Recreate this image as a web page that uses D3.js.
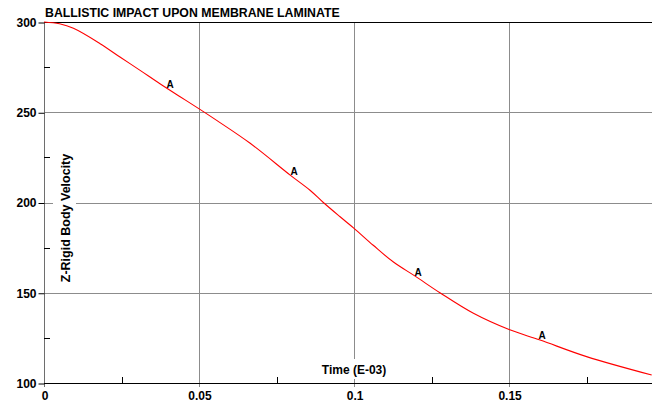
<!DOCTYPE html>
<html>
<head>
<meta charset="utf-8">
<script src="https://cdn.jsdelivr.net/npm/d3@7"></script>
<style>
  html, body { margin: 0; padding: 0; background: #fff; }
  svg { display: block; }
  text { font-family: "Liberation Sans", Arial, sans-serif; font-weight: bold; fill: #000; }
</style>
</head>
<body>
<svg id="chart" width="652" height="407"></svg>
<script>
// Rigid body Z velocity history of the projectile (time in E-03 s)
const time = [0, 0.005, 0.0095, 0.0181, 0.0245, 0.031, 0.0374, 0.0439, 0.0503, 0.0557,
  0.0665, 0.0794, 0.0858, 0.0901, 0.0955, 0.1, 0.1062, 0.1127, 0.1197, 0.1277,
  0.1385, 0.15, 0.16, 0.175, 0.196];
const velocity = [300, 299.0, 296.5, 288.0, 280.6, 273.2, 265.8, 258.6, 251.6, 245.5,
  232.8, 215.2, 206.8, 200, 192.1, 185.7, 176.3, 167.0, 159.2, 150.0,
  138.6, 129.6, 123.8, 114.6, 104.4];

// Curve identifier markers
const markerTime = [0.04, 0.08, 0.12, 0.16];
const markerText = "A";

const xMajor = [0, 0.05, 0.1, 0.15];
const xMinor = [0.025, 0.075, 0.125, 0.175];
const xTickLabels = ["0", "0.05", "0.1", "0.15"];
const yMajor = [100, 150, 200, 250, 300];
const yMinor = [125, 175, 225, 275];

const title = "BALLISTIC IMPACT UPON MEMBRANE LAMINATE";
const xLabel = "Time (E-03)";
const yLabel = "Z-Rigid Body Velocity";

const svg = d3.select("#chart");
const plotLeft = 44, plotRight = 652, plotTop = 22, plotBottom = 383;

const x = d3.scaleLinear().domain([0, 0.1961]).range([plotLeft, plotRight]);
const y = d3.scaleLinear().domain([100, 300]).range([plotBottom, plotTop]);

const crisp = v => Math.round(v) + 0.5;

// grid lines
const grid = svg.append("g").attr("stroke", "#8c8c8c").attr("stroke-width", 1);
grid.selectAll("line.v").data(xMajor.slice(1)).join("line")
  .attr("x1", d => crisp(x(d))).attr("x2", d => crisp(x(d)))
  .attr("y1", plotTop).attr("y2", plotBottom + 4);
grid.selectAll("line.h").data(yMajor.slice(1, -1)).join("line")
  .attr("x1", plotLeft).attr("x2", plotRight)
  .attr("y1", d => crisp(y(d))).attr("y2", d => crisp(y(d)));

// left axis line (gray) and frame lines (black)
svg.append("line").attr("stroke", "#6e6e6e")
  .attr("x1", crisp(plotLeft)).attr("x2", crisp(plotLeft))
  .attr("y1", plotTop).attr("y2", plotBottom + 4);
svg.append("line").attr("stroke", "#000")
  .attr("x1", plotLeft).attr("x2", plotRight)
  .attr("y1", crisp(y(300))).attr("y2", crisp(y(300)));
svg.append("line").attr("stroke", "#000")
  .attr("x1", plotLeft).attr("x2", plotRight)
  .attr("y1", crisp(y(100))).attr("y2", crisp(y(100)));

// y axis ticks and labels
const yAxis = d3.axisLeft(y).tickValues(yMajor).tickSize(6).tickPadding(2).tickFormat(d3.format("d"));
const gy = svg.append("g").attr("transform", `translate(${crisp(plotLeft)},0.5)`).call(yAxis);
gy.select(".domain").remove();
gy.selectAll(".tick line").attr("stroke", "#000");
gy.selectAll(".tick text").attr("font-size", 12).attr("font-family", null).style("font-weight", "bold");

// y minor ticks pointing inward
svg.append("g").selectAll("line").data(yMinor).join("line")
  .attr("stroke", "#000")
  .attr("x1", plotLeft).attr("x2", plotLeft + 6)
  .attr("y1", d => crisp(y(d))).attr("y2", d => crisp(y(d)));

// x axis labels
const xAxis = d3.axisBottom(x).tickValues(xMajor).tickSize(0).tickPadding(8)
  .tickFormat((d, i) => xTickLabels[i]);
const gx = svg.append("g").attr("transform", `translate(0.5,${plotBottom})`).call(xAxis);
gx.select(".domain").remove();
gx.selectAll(".tick text").attr("font-size", 12).attr("font-family", null).style("font-weight", "bold");

// x minor ticks pointing inward
svg.append("g").selectAll("line").data(xMinor).join("line")
  .attr("stroke", "#000")
  .attr("x1", d => crisp(x(d))).attr("x2", d => crisp(x(d)))
  .attr("y1", plotBottom).attr("y2", plotBottom - 6);

// velocity curve
const line = d3.line().x(d => x(d[0])).y(d => y(d[1])).curve(d3.curveCatmullRom.alpha(0.5));
svg.append("path")
  .datum(time.map((t, i) => [t, velocity[i]]))
  .attr("fill", "none").attr("stroke", "#ff0000").attr("stroke-width", 1.1)
  .attr("d", line);

// markers placed on the curve
const velAt = t => {
  const i = Math.max(1, d3.bisectLeft(time, t));
  const f = (t - time[i - 1]) / (time[i] - time[i - 1]);
  return velocity[i - 1] + f * (velocity[i] - velocity[i - 1]);
};
svg.append("g").selectAll("text").data(markerTime).join("text")
  .attr("x", d => x(d) + 2).attr("y", d => y(velAt(d)) - 1)
  .attr("text-anchor", "middle").attr("font-size", 10)
  .text(markerText);

// axis titles with white backing
const xl = svg.append("g");
xl.append("rect").attr("x", 319).attr("y", 359).attr("width", 71).attr("height", 20).attr("fill", "#fff");
xl.append("text").attr("x", x(0.1)).attr("y", 373.5).attr("text-anchor", "middle")
  .attr("font-size", 12).text(xLabel);

const yl = svg.append("g");
yl.append("rect").attr("x", 53).attr("y", 150).attr("width", 23).attr("height", 136).attr("fill", "#fff");
yl.append("text").attr("transform", "translate(69.5,218) rotate(-90)").attr("text-anchor", "middle")
  .attr("font-size", 12.5).text(yLabel);

// title
svg.append("text").attr("x", 45).attr("y", 16.5).attr("font-size", 12.3).text(title);
</script>
</body>
</html>
